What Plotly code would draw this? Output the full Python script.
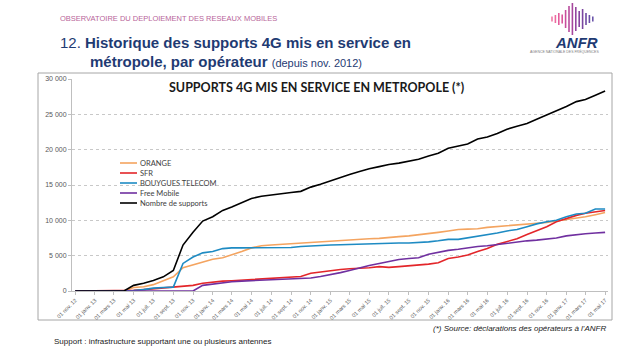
import plotly.graph_objects as go
import pandas as pd

# ---------------- data ----------------
months = [d.strftime("%Y-%m-%d") for d in pd.date_range("2012-11-01", periods=55, freq="MS")]

orange = [0, 0, 0, 0, 0, 0, 500, 600, 900, 1500, 2000, 3300, 3700, 4000, 4500, 4700, 5100, 5600, 6100,
          6400, 6500, 6600, 6650, 6750, 6850, 6950, 7000, 7150, 7250, 7300, 7400, 7450, 7600, 7700, 7800,
          8000, 8200, 8300, 8500, 8700, 8750, 8800, 9000, 9100, 9200, 9300, 9450, 9550, 9700, 9900, 10100,
          10300, 10500, 10800, 11100]
sfr = [0, 0, 0, 0, 0, 0, 100, 200, 300, 400, 550, 650, 800, 1100, 1300, 1400, 1450, 1550, 1600, 1650,
       1750, 1850, 1950, 2050, 2500, 2700, 2900, 3050, 3150, 3200, 3300, 3450, 3350, 3450, 3550, 3650,
       3800, 4000, 4600, 4800, 5100, 5600, 6000, 6600, 7000, 7400, 8000, 8500, 9100, 9800, 10300, 10700,
       11000, 11200, 11400]
bouygues = [0, 0, 0, 0, 0, 0, 50, 200, 400, 500, 550, 3900, 4800, 5400, 5600, 6000, 6100, 6100, 6100,
            6100, 6100, 6100, 6150, 6300, 6400, 6450, 6500, 6550, 6600, 6650, 6700, 6700, 6750, 6800, 6800,
            6850, 6950, 7100, 7300, 7300, 7500, 7700, 7950, 8200, 8500, 8700, 9100, 9500, 9800, 10000, 10500,
            10900, 11000, 11600, 11600]
free = [0, 0, 0, 0, 0, 0, 0, 0, 0, 0, 0, 0, 0, 800, 1000, 1200, 1300, 1400, 1450, 1500, 1550, 1600,
        1650, 1700, 1850, 2050, 2300, 2600, 2900, 3300, 3600, 3900, 4200, 4450, 4600, 4700, 5200, 5500,
        5750, 5900, 6100, 6300, 6400, 6600, 6800, 6950, 7100, 7200, 7300, 7500, 7800, 8000, 8100, 8200, 8300]
total = [0, 0, 0, 0, 0, 0, 800, 1100, 1500, 2000, 2900, 6500, 8300, 9900, 10500, 11400, 11900, 12500,
         13100, 13400, 13600, 13800, 13950, 14100, 14700, 15100, 15600, 16000, 16500, 16900, 17300, 17600,
         17900, 18100, 18400, 18650, 19100, 19500, 20200, 20500, 20800, 21500, 21800, 22300, 22900, 23300,
         23700, 24300, 24900, 25400, 26100, 26800, 27100, 27700, 28300]

series_names = ["ORANGE", "SFR", "BOUYGUES TELECOM", "Free Mobile", "Nombre de supports"]
series_values = [orange, sfr, bouygues, free, total]
series_colors = ["#f4a460", "#e3262a", "#1e8bc3", "#7030a0", "#000000"]

tick_labels = ["01 nov. 12", "01 janv. 13", "01 mars 13", "01 mai 13", "01 juil. 13", "01 sept. 13",
               "01 nov. 13", "01 janv. 14", "01 mars 14", "01 mai 14", "01 juil. 14", "01 sept. 14",
               "01 nov. 14", "01 janv. 15", "01 mars 15", "01 mai 15", "01 juil. 15", "01 sept. 15",
               "01 nov. 15", "01 janv. 16", "01 mars 16", "01 mai 16", "01 juil. 16", "01 sept. 16",
               "01 nov. 16", "01 janv. 17", "01 mars 17", "01 mai 17"]

# ---------------- layout helpers ----------------
W, H = 620, 350
L, R, T, B = 72, 12, 79, 59
PW, PH = W - L - R, H - T - B


def px(x):
    return (x - L) / PW


def py(y):
    return (H - B - y) / PH


fig = go.Figure()
for name, vals, col in zip(series_names, series_values, series_colors):
    fig.add_trace(go.Scatter(x=months, y=vals, mode="lines", name=name,
                             line=dict(color=col, width=1.6), showlegend=False))

shapes = []
annotations = []

# chart frame
shapes.append(dict(type="rect", xref="paper", yref="paper", x0=px(38), x1=px(612), y0=py(320), y1=py(73),
                   line=dict(color="#a6a6a6", width=1), layer="below"))

# manual legend (compact spacing as in the reference)
leg_y = [163, 173, 183, 193, 203]
for name, col, yy in zip(series_names, series_colors, leg_y):
    shapes.append(dict(type="line", xref="paper", yref="paper", x0=px(120), x1=px(137), y0=py(yy), y1=py(yy),
                       line=dict(color=col, width=1.6)))
    annotations.append(dict(text=name, xref="paper", yref="paper", x=px(138), y=py(yy), xanchor="left",
                            yanchor="middle", showarrow=False,
                            font=dict(family="Lato", size=7.5, color="#404040")))

# ANFR logo bars
bar_h = [5, 8, 12, 9, 18, 26, 32, 24, 16, 20, 12, 8, 5]
bar_c = ["#f07aa8", "#ec6aa0", "#e45c9c", "#d9559c", "#c84f9c", "#b84a9c", "#a6479d", "#94459e",
         "#86439f", "#7a45a0", "#6e48a2", "#6a4da6", "#6a55aa"]
for i, (h, c) in enumerate(zip(bar_h, bar_c)):
    xx = 552 + i * 3.4
    shapes.append(dict(type="line", xref="paper", yref="paper", x0=px(xx), x1=px(xx),
                       y0=py(19 + h / 2), y1=py(19 - h / 2), line=dict(color=c, width=1.6)))
annotations.append(dict(text="<b><i>ANFR</i></b>", xref="paper", yref="paper", x=px(600), y=py(42),
                        xanchor="right", yanchor="middle", showarrow=False,
                        font=dict(family="Liberation Sans", size=15, color="#1f3b73")))
annotations.append(dict(text="AGENCE NATIONALE DES FRÉQUENCES", xref="paper", yref="paper", x=px(601), y=py(51),
                        xanchor="right", yanchor="middle", showarrow=False,
                        font=dict(family="Liberation Sans", size=3.5, color="#808080")))

# header texts
annotations.append(dict(text="OBSERVATOIRE DU DEPLOIEMENT DES RESEAUX MOBILES", xref="paper", yref="paper",
                        x=px(58), y=py(18), xanchor="left", yanchor="middle", showarrow=False,
                        font=dict(family="Liberation Sans", size=7.5, color="#b8659a")))
annotations.append(dict(text="12. <b>Historique des supports 4G mis en service en</b>", xref="paper",
                        yref="paper", x=px(58), y=py(42), xanchor="left", yanchor="middle", showarrow=False,
                        font=dict(family="Liberation Sans", size=15, color="#1f3b73")))
annotations.append(dict(text="<b>métropole, par opérateur</b> <span style='font-size:11px'>(depuis nov. 2012)</span>",
                        xref="paper", yref="paper", x=px(88), y=py(62), xanchor="left", yanchor="middle",
                        showarrow=False, font=dict(family="Liberation Sans", size=15, color="#1f3b73")))

# chart title
annotations.append(dict(text="<b>SUPPORTS 4G MIS EN SERVICE EN METROPOLE (*)</b>", xref="paper", yref="paper",
                        x=px(316), y=py(87), xanchor="center", yanchor="middle", showarrow=False,
                        font=dict(family="Lato", size=12.5, color="#1a1a1a")))

# footer texts
annotations.append(dict(text="<i>(*) Source: déclarations des opérateurs à l'ANFR</i>", xref="paper",
                        yref="paper", x=px(608), y=py(328), xanchor="right", yanchor="middle",
                        showarrow=False, font=dict(family="Liberation Sans", size=8, color="#1a1a1a")))
annotations.append(dict(text="Support : infrastructure supportant une ou plusieurs antennes", xref="paper",
                        yref="paper", x=px(52), y=py(341), xanchor="left", yanchor="middle",
                        showarrow=False, font=dict(family="Liberation Sans", size=8, color="#1a1a1a")))

fig.update_layout(
    width=W, height=H,
    margin=dict(l=L, r=R, t=T, b=B, pad=0),
    paper_bgcolor="white", plot_bgcolor="white",
    separators=", ",
    shapes=shapes, annotations=annotations,
    showlegend=False,
    xaxis=dict(type="date", range=["2012-10-22", "2017-05-10"], tickvals=months[::2], ticktext=tick_labels,
               tickangle=-45, tickfont=dict(family="Liberation Sans", size=5.5, color="#595959"),
               showgrid=False, zeroline=False, showline=True, linecolor="#bfbfbf", linewidth=1,
               ticks="outside", ticklen=3, tickcolor="#bfbfbf"),
    yaxis=dict(range=[0, 30000], dtick=5000, tickformat=",d",
               tickfont=dict(family="Liberation Sans", size=7, color="#595959"),
               showgrid=True, gridcolor="#c8c8c8", griddash="dot", gridwidth=1, zeroline=False,
               showline=True, linecolor="#bfbfbf", linewidth=1, ticks="outside", ticklen=3,
               tickcolor="#bfbfbf"),
)

fig.write_html("out.html")
